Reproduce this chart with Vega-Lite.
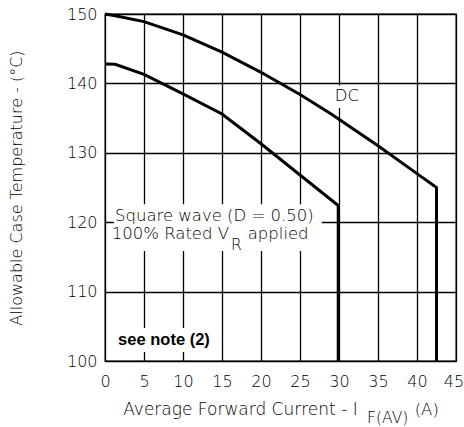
{
  "$schema": "https://vega.github.io/schema/vega-lite/v6.json",
  "width": 351,
  "height": 347,
  "autosize": {"type": "none"},
  "padding": {"left": 105, "top": 14, "right": 8, "bottom": 66},
  "background": "white",
  "config": {
    "view": {"stroke": "black", "strokeWidth": 1.3},
    "font": "DejaVu Sans",
    "axis": {
      "grid": true,
      "gridColor": "black",
      "gridOpacity": 1,
      "gridWidth": 1.3,
      "ticks": false,
      "domain": false,
      "labelFont": "DejaVu Sans",
      "labelFontSize": 16,
      "labelFontWeight": 200,
      "labelColor": "black",
      "labelOverlap": false,
      "labelFlush": false,
      "titleFont": "DejaVu Sans",
      "titleFontSize": 16,
      "titleFontWeight": 200,
      "titleColor": "black"
    }
  },
  "datasets": {
    "curves": [
      {"series": "DC", "i": 0, "x": 0, "y": 150},
      {"series": "DC", "i": 1, "x": 1.3, "y": 149.75},
      {"series": "DC", "i": 2, "x": 5, "y": 148.9},
      {"series": "DC", "i": 3, "x": 10, "y": 147.0},
      {"series": "DC", "i": 4, "x": 15, "y": 144.5},
      {"series": "DC", "i": 5, "x": 20, "y": 141.6},
      {"series": "DC", "i": 6, "x": 25, "y": 138.4},
      {"series": "DC", "i": 7, "x": 29, "y": 135.6},
      {"series": "DC", "i": 8, "x": 35, "y": 131.0},
      {"series": "DC", "i": 9, "x": 40, "y": 127.0},
      {"series": "DC", "i": 10, "x": 42.5, "y": 125.0},
      {"series": "DC", "i": 11, "x": 42.5, "y": 100},
      {"series": "Square", "i": 0, "x": 0, "y": 142.8},
      {"series": "Square", "i": 1, "x": 1.3, "y": 142.75},
      {"series": "Square", "i": 2, "x": 5, "y": 141.3},
      {"series": "Square", "i": 3, "x": 10, "y": 138.5},
      {"series": "Square", "i": 4, "x": 15, "y": 135.6},
      {"series": "Square", "i": 5, "x": 20, "y": 131.3},
      {"series": "Square", "i": 6, "x": 25, "y": 126.8},
      {"series": "Square", "i": 7, "x": 29.9, "y": 122.4},
      {"series": "Square", "i": 8, "x": 29.9, "y": 100}
    ],
    "boxes": [
      {"name": "square", "x": 1.15, "x2": 27.8, "y": 115.85, "y2": 122.6},
      {"name": "dc", "x": 29.2, "x2": 32.9, "y": 136.45, "y2": 139.7},
      {"name": "note", "x": 1.3, "x2": 14.1, "y": 101.3, "y2": 104.75}
    ],
    "leftText": [
      {"label": "Square wave (D = 0.50)", "x": 1.28, "y": 120.9},
      {"label": "applied", "x": 18.3, "y": 118.3},
      {"label": "(A)", "x": 39.7, "y": 92.9}
    ],
    "rightText": [
      {"label": "100% Rated V", "x": 15.9, "y": 118.3}
    ],
    "titleText": [
      {"label": "Average Forward Current - I", "x": 32.4, "y": 92.9}
    ],
    "subText": [
      {"label": "R", "x": 16.15, "y": 116.7},
      {"label": "F(AV)", "x": 33.6, "y": 91.8}
    ],
    "centerText": [
      {"label": "DC", "x": 31.0, "y": 138.2}
    ],
    "noteText": [
      {"label": "see note (2)", "x": 7.56, "y": 103.0}
    ]
  },
  "encoding": {
    "x": {"field": "x", "type": "quantitative",
      "scale": {"domain": [0, 45], "nice": false, "zero": false},
      "axis": {"values": [0, 5, 10, 15, 20, 25, 30, 35, 40, 45], "labelPadding": 12, "title": null,
        "labelOffset": {"condition": {"test": "datum.value == 45", "value": -2.5}, "value": 0}}},
    "y": {"field": "y", "type": "quantitative",
      "scale": {"domain": [100, 150], "nice": false, "zero": false},
      "axis": {"values": [100, 110, 120, 130, 140, 150], "labelPadding": 8, "title": "Allowable Case Temperature - (°C)", "titlePadding": 42}}
  },
  "layer": [
    {
      "data": {"name": "boxes"},
      "mark": {"type": "rect", "fill": "white", "stroke": null},
      "encoding": {
        "x2": {"field": "x2"},
        "y2": {"field": "y2"}
      }
    },
    {
      "data": {"name": "curves"},
      "mark": {"type": "line", "color": "black", "strokeWidth": 3, "strokeJoin": "miter"},
      "encoding": {
        "detail": {"field": "series"},
        "order": {"field": "i", "type": "quantitative"}
      }
    },
    {
      "data": {"name": "leftText"},
      "mark": {"type": "text", "align": "left", "baseline": "middle", "fontSize": 16.5, "fontWeight": 200, "color": "black"},
      "encoding": {"text": {"field": "label"}}
    },
    {
      "data": {"name": "rightText"},
      "mark": {"type": "text", "align": "right", "baseline": "middle", "fontSize": 16.5, "fontWeight": 200, "color": "black"},
      "encoding": {"text": {"field": "label"}}
    },
    {
      "data": {"name": "titleText"},
      "mark": {"type": "text", "align": "right", "baseline": "middle", "fontSize": 17, "fontWeight": 200, "color": "black"},
      "encoding": {"text": {"field": "label"}}
    },
    {
      "data": {"name": "subText"},
      "mark": {"type": "text", "align": "left", "baseline": "middle", "fontSize": 15.5, "fontWeight": 200, "color": "black"},
      "encoding": {"text": {"field": "label"}}
    },
    {
      "data": {"name": "centerText"},
      "mark": {"type": "text", "align": "center", "baseline": "middle", "fontSize": 16.5, "fontWeight": 200, "color": "black"},
      "encoding": {"text": {"field": "label"}}
    },
    {
      "data": {"name": "noteText"},
      "mark": {"type": "text", "align": "center", "baseline": "middle", "fontSize": 16.5, "font": "Liberation Sans", "fontWeight": "bold", "color": "black"},
      "encoding": {"text": {"field": "label"}}
    }
  ]
}
